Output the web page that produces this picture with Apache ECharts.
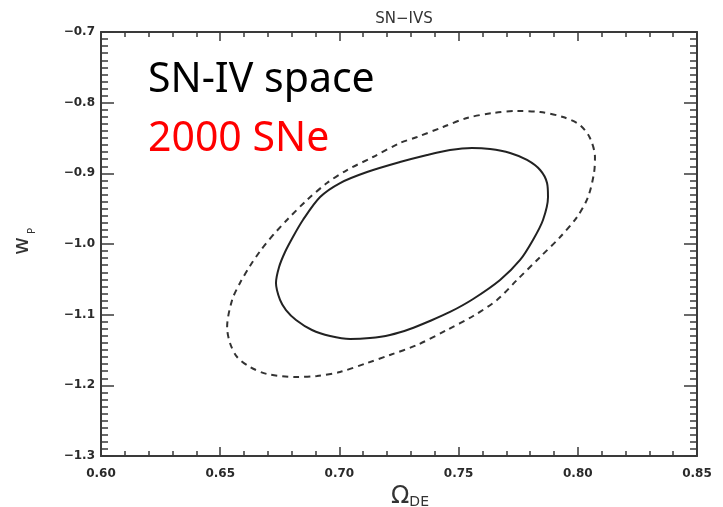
<!DOCTYPE html>
<html>
<head>
<meta charset="utf-8">
<script src="https://cdn.jsdelivr.net/npm/echarts@6/dist/echarts.min.js"></script>
<style>
  html, body { margin: 0; padding: 0; background: #fff; }
  #chart { width: 723px; height: 507px; }
</style>
</head>
<body>
<div id="chart"></div>
<script>
// Axis ranges and ticks
const xTicks = [0.60, 0.65, 0.70, 0.75, 0.80, 0.85];
const yTicks = [-1.3, -1.2, -1.1, -1.0, -0.9, -0.8, -0.7];

// Inner contour (solid): [Omega_DE, w_P]
const innerContour = [
  [0.6805, -0.9901], [0.6772, -1.0113], [0.6747, -1.0325], [0.6734, -1.0552],
  [0.6751, -1.0792], [0.6776, -1.0934], [0.6818, -1.1075], [0.6885, -1.1217],
  [0.6961, -1.1302], [0.7045, -1.1344], [0.7128, -1.1330], [0.7212, -1.1287],
  [0.7296, -1.1203], [0.7380, -1.1089], [0.7464, -1.0962], [0.7561, -1.0778],
  [0.7674, -1.0509], [0.7758, -1.0226], [0.7812, -0.9943], [0.7854, -0.9660],
  [0.7875, -0.9335], [0.7871, -0.9137], [0.7842, -0.8953], [0.7787, -0.8811],
  [0.7716, -0.8712], [0.7632, -0.8656], [0.7556, -0.8641], [0.7464, -0.8670],
  [0.7368, -0.8740], [0.7254, -0.8840], [0.7116, -0.8981], [0.7003, -0.9137],
  [0.6919, -0.9335], [0.6847, -0.9660], [0.6805, -0.9901]
];

// Outer contour (dashed): [Omega_DE, w_P]
const outerContour = [
  [0.6722, -0.9872], [0.6671, -1.0085], [0.6625, -1.0311], [0.6583, -1.0552],
  [0.6550, -1.0792], [0.6529, -1.1174], [0.6541, -1.1401], [0.6571, -1.1599],
  [0.6625, -1.1740], [0.6696, -1.1839], [0.6822, -1.1882], [0.6906, -1.1868],
  [0.7003, -1.1811], [0.7116, -1.1684], [0.7212, -1.1570], [0.7326, -1.1429],
  [0.7451, -1.1217], [0.7561, -1.1019], [0.7661, -1.0792], [0.7745, -1.0509],
  [0.7842, -1.0184], [0.7926, -0.9901], [0.7997, -0.9618], [0.8043, -0.9335],
  [0.8068, -0.8995], [0.8072, -0.8769], [0.8051, -0.8500], [0.8009, -0.8316],
  [0.7938, -0.8203], [0.7842, -0.8132], [0.7745, -0.8118], [0.7644, -0.8146],
  [0.7535, -0.8217], [0.7435, -0.8344], [0.7326, -0.8486], [0.7254, -0.8571],
  [0.7141, -0.8769], [0.7032, -0.8953], [0.6948, -0.9137], [0.6864, -0.9377],
  [0.6780, -0.9660], [0.6722, -0.9872]
];

const axisColor = '#3a3a3a';
const labelFont = { color: '#2a2a2a', fontSize: 12, fontFamily: 'DejaVu Sans', fontWeight: 'bold' };
const minus = s => s.replace('-', '\u2212');

function xAxisDef(pos, showLabels) {
  return {
    type: 'value', position: pos,
    min: xTicks[0], max: xTicks[xTicks.length - 1], interval: 0.05,
    axisLine: { show: true, onZero: false, lineStyle: { color: axisColor, width: 2 } },
    axisTick: { show: true, inside: true, length: 9, lineStyle: { color: axisColor, width: 1.5 } },
    minorTick: { show: true, splitNumber: 5, length: 5, lineStyle: { color: axisColor, width: 1.5 } },
    splitLine: { show: false },
    axisLabel: Object.assign({ show: showLabels, margin: 12, formatter: v => v.toFixed(2) }, labelFont),
    name: showLabels ? '{o|\u03A9}{s|DE}' : '',
    nameLocation: 'middle', nameGap: 22,
    nameTextStyle: {
      padding: [0, 0, 0, 22],
      rich: {
        o: { fontSize: 24, fontFamily: 'DejaVu Sans', color: '#333' },
        s: { fontSize: 14, fontFamily: 'DejaVu Sans', color: '#333', verticalAlign: 'bottom', padding: [10, 0, 0, 0] }
      }
    }
  };
}

function yAxisDef(pos, showLabels) {
  return {
    type: 'value', position: pos,
    min: yTicks[0], max: yTicks[yTicks.length - 1], interval: 0.1,
    axisLine: { show: true, onZero: false, lineStyle: { color: axisColor, width: 2 } },
    axisTick: { show: true, inside: true, length: 13, lineStyle: { color: axisColor, width: 1.5 } },
    minorTick: { show: true, splitNumber: 10, length: 7, lineStyle: { color: axisColor, width: 1.5 } },
    splitLine: { show: false },
    axisLabel: Object.assign({ show: showLabels, margin: 6, formatter: v => minus(v.toFixed(1)) }, labelFont)
  };
}

const chart = echarts.init(document.getElementById('chart'), null, { renderer: 'canvas' });
chart.setOption({
  animation: false,
  backgroundColor: '#fff',
  title: {
    text: 'SN\u2212IVS', left: 399, top: 7, textAlign: 'center',
    textStyle: { fontSize: 15, fontWeight: 'normal', color: '#333', fontFamily: 'DejaVu Sans' }
  },
  grid: { left: 101, right: 26, top: 32, bottom: 51, containLabel: false, outerBoundsMode: 'none' },
  xAxis: [xAxisDef('bottom', true), xAxisDef('top', false)],
  yAxis: [yAxisDef('left', true), yAxisDef('right', false)],
  series: [
    {
      type: 'line', data: outerContour, xAxisIndex: 0, yAxisIndex: 0,
      smooth: 0.3, showSymbol: false,
      lineStyle: { color: '#333', width: 2, type: [6, 5] }
    },
    {
      type: 'line', data: innerContour, xAxisIndex: 0, yAxisIndex: 0,
      smooth: 0.3, showSymbol: false,
      lineStyle: { color: '#222', width: 2 }
    }
  ],
  graphic: [
    {
      type: 'text', x: 22, y: 246, rotation: Math.PI / 2,
      style: { text: 'w', fontSize: 22, fontFamily: 'DejaVu Sans', fill: '#333', align: 'center', verticalAlign: 'middle' }
    },
    {
      type: 'text', x: 32, y: 231, rotation: Math.PI / 2,
      style: { text: 'P', fontSize: 10, fontFamily: 'DejaVu Sans', fill: '#333', align: 'center', verticalAlign: 'middle' }
    },
    {
      type: 'text', x: 148, y: 80,
      style: { text: 'SN-IV space', fontSize: 41, fontFamily: 'Noto Sans', fill: '#000', align: 'left', verticalAlign: 'middle' }
    },
    {
      type: 'text', x: 148, y: 139,
      style: { text: '2000 SNe', fontSize: 41, fontFamily: 'Noto Sans', fill: '#ff0000', align: 'left', verticalAlign: 'middle' }
    }
  ]
});
</script>
</body>
</html>
